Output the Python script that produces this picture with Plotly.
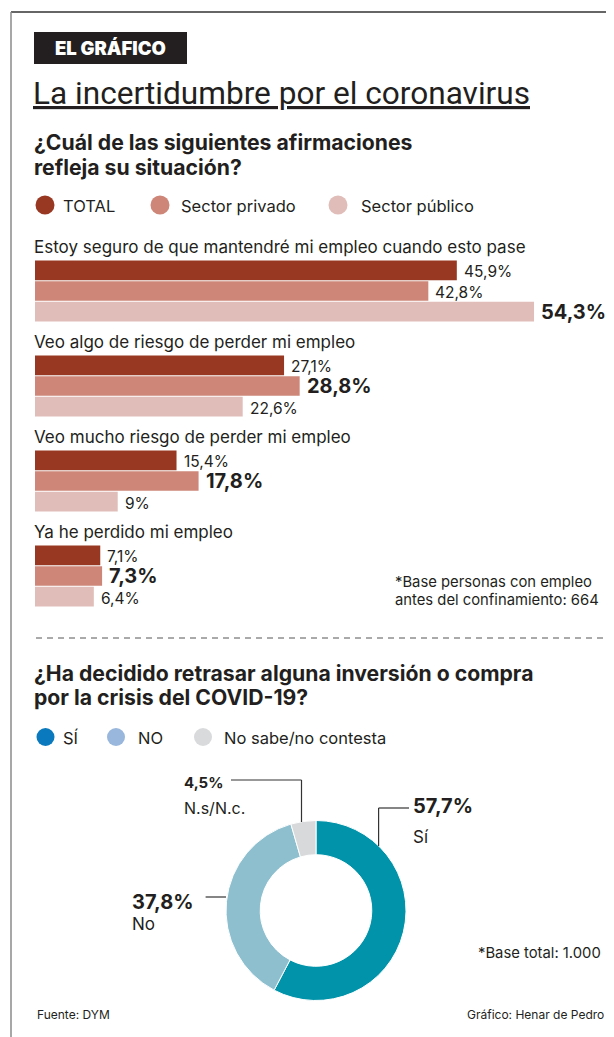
import plotly.graph_objects as go

# The page body has an 8px margin, so the figure is drawn at (8, 8) in the window.
OFF = 8
W, H = 614 - OFF, 1037 - OFF

# ---------------- data ----------------
categories = [
    "Estoy seguro de que mantendré mi empleo cuando esto pase",
    "Veo algo de riesgo de perder mi empleo",
    "Veo mucho riesgo de perder mi empleo",
    "Ya he perdido mi empleo",
]
series_names = ["TOTAL", "Sector privado", "Sector público"]
total = [45.9, 27.1, 15.4, 7.1]
privado = [42.8, 28.8, 17.8, 7.3]
publico = [54.3, 22.6, 9.0, 6.4]
bar_colors = ["#993822", "#cd8677", "#e0bdb8"]

pie_labels = ["Sí", "No", "N.s/N.c."]
pie_values = [57.7, 37.8, 4.5]
pie_colors = ["#0093a9", "#8ebfcf", "#d8d9db"]
legend2_labels = ["SÍ", "NO", "No sabe/no contesta"]
legend2_colors = ["#0a79bd", "#99b7dc", "#d9dadc"]

TXT = "#231f20"
FONT = "Inter"


def px(x):
    return (x - OFF) / W


def py(y):
    return 1 - (y - OFF) / H


def fmt(v):
    return f"{v:g}".replace(".", ",") + "%"


fig = go.Figure()
series = [total, privado, publico]
for name, vals, col in zip(series_names, series, bar_colors):
    fig.add_trace(go.Bar(
        y=categories, x=vals, name=name, orientation="h",
        marker=dict(color=col, line=dict(width=0)),
        showlegend=False, hoverinfo="x+name",
    ))

fig.add_trace(go.Pie(
    labels=pie_labels, values=pie_values, hole=0.62, sort=False,
    direction="clockwise", rotation=0,
    marker=dict(colors=pie_colors, line=dict(color="white", width=1)),
    textinfo="none", showlegend=False,
    domain=dict(x=[px(226), px(406)], y=[py(1001), py(820)]),
))

ann = []
shapes = []


def text(x, y, s, size=16, bold=False, color=TXT, anchor="left", family=FONT, weight=None, **kw):
    f = dict(family=family, size=size, color=color)
    if weight is not None:
        f["weight"] = weight
    elif bold:
        f["weight"] = 700
    ann.append(dict(xref="paper", yref="paper", x=px(x), y=py(y), text=s,
                    showarrow=False, xanchor=anchor, yanchor="middle",
                    font=f, **kw))


# frame
shapes.append(dict(type="line", xref="paper", yref="paper", x0=px(11), x1=1,
                   y0=py(12), y1=py(12), line=dict(color="#333", width=1.5)))
shapes.append(dict(type="line", xref="paper", yref="paper", x0=px(11), x1=px(11),
                   y0=py(12), y1=0, line=dict(color="#8a8a8a", width=1.5)))

# header
shapes.append(dict(type="rect", xref="paper", yref="paper", x0=px(34), x1=px(187),
                   y0=py(64), y1=py(32), fillcolor="#231f20", line=dict(width=0)))
text(110.5, 48.5, "EL GRÁFICO", size=18.5, weight=900, color="white", anchor="center")
text(31, 93, "<u>La incertidumbre por el coronavirus</u>", size=31.6, family="Roboto")
text(33, 142.5, "¿Cuál de las siguientes afirmaciones", size=21.2, bold=True, borderpad=0)
text(33, 167, "refleja su situación?", size=21.2, bold=True, borderpad=0)

# legend 1
leg1 = [(45, 62), (160, 180), (338, 360)]
for (cx, tx), name, col in zip(leg1, series_names, bar_colors):
    shapes.append(dict(type="circle", xref="paper", yref="paper",
                       x0=px(cx - 9.5), x1=px(cx + 9.5), y0=py(205 + 9.5), y1=py(205 - 9.5),
                       fillcolor=col, line=dict(width=0)))
    text(tx - 1, 206, name, size=16.5)

# category labels and value labels
for ci, cat in enumerate(categories):
    ann.append(dict(xref="paper", yref="y", x=px(32), y=cat, yshift=44,
                    text=cat, showarrow=False, xanchor="left", yanchor="middle",
                    font=dict(family=FONT, size=17, color=TXT)))
    vals = [s[ci] for s in series]
    vmax = max(vals)
    for si, v in enumerate(vals):
        big = v == vmax
        ann.append(dict(xref="x", yref="y", x=v, y=cat, xshift=5,
                        yshift=21 * (1 - si) - (0 if big else 1.5),
                        text=fmt(v), showarrow=False, xanchor="left", yanchor="middle",
                        font=dict(family=FONT, size=20 if big else 15.5, color=TXT,
                                  weight=700 if big else 400)))

text(393, 582, "*Base personas con empleo", size=14.8)
text(393, 600, "antes del confinamiento: 664", size=14.8)

# separator
shapes.append(dict(type="line", xref="paper", yref="paper", x0=px(36), x1=1,
                   y0=py(638), y1=py(638), line=dict(color="#555", width=1, dash="6px,5px")))

text(33, 672.5, "¿Ha decidido retrasar alguna inversión o compra", size=21.2, bold=True, borderpad=0)
text(33, 697, "por la crisis del COVID-19?", size=21.2, bold=True, borderpad=0)

leg2 = [(45.5, 62), (116, 137), (203, 223)]
for (cx, tx), name, col in zip(leg2, legend2_labels, legend2_colors):
    shapes.append(dict(type="circle", xref="paper", yref="paper",
                       x0=px(cx - 9), x1=px(cx + 9), y0=py(737 + 9), y1=py(737 - 9),
                       fillcolor=col, line=dict(width=0)))
    text(tx - 1, 738, name, size=16.5)

# donut labels
text(411, 806, "57,7%", size=20, bold=True)
text(411, 837, "Sí", size=17)
text(182, 782, "4,5%", size=15, bold=True)
text(182, 808, "N.s/N.c.", size=16)
text(130, 902, "37,8%", size=20, bold=True)
text(130, 924, "No", size=17)
line = dict(color="#333", width=1.2)
for (x0, y0, x1, y1) in [(378.6, 808, 409, 808), (378.6, 808, 378.6, 846),
                         (231, 780, 301.5, 780), (301.5, 780, 301.5, 822),
                         (205.6, 897, 226, 897)]:
    shapes.append(dict(type="line", xref="paper", yref="paper", x0=px(x0), x1=px(x1),
                       y0=py(y0), y1=py(y1), line=line))

text(476, 953, "*Base total: 1.000", size=14.8)
text(35, 1015, "Fuente: DYM", size=12)
text(606, 1015, "Gráfico: Henar de Pedro", size=12, anchor="right")

fig.update_layout(
    width=W, height=H, margin=dict(l=0, r=0, t=0, b=0),
    paper_bgcolor="white", plot_bgcolor="white",
    barmode="group", bargap=0.349, bargroupgap=0.05,
    xaxis=dict(domain=[px(35), 1], range=[0, (614 - 35) / 9.19], visible=False, fixedrange=True),
    yaxis=dict(domain=[py(623.5), py(243.5)], type="category", categoryarray=categories,
               categoryorder="array", range=[3.5, -0.5], autorange=False,
               visible=False, fixedrange=True),
    annotations=ann, shapes=shapes, showlegend=False,
    font=dict(family=FONT, color=TXT),
)

fig.write_html("out.html")
